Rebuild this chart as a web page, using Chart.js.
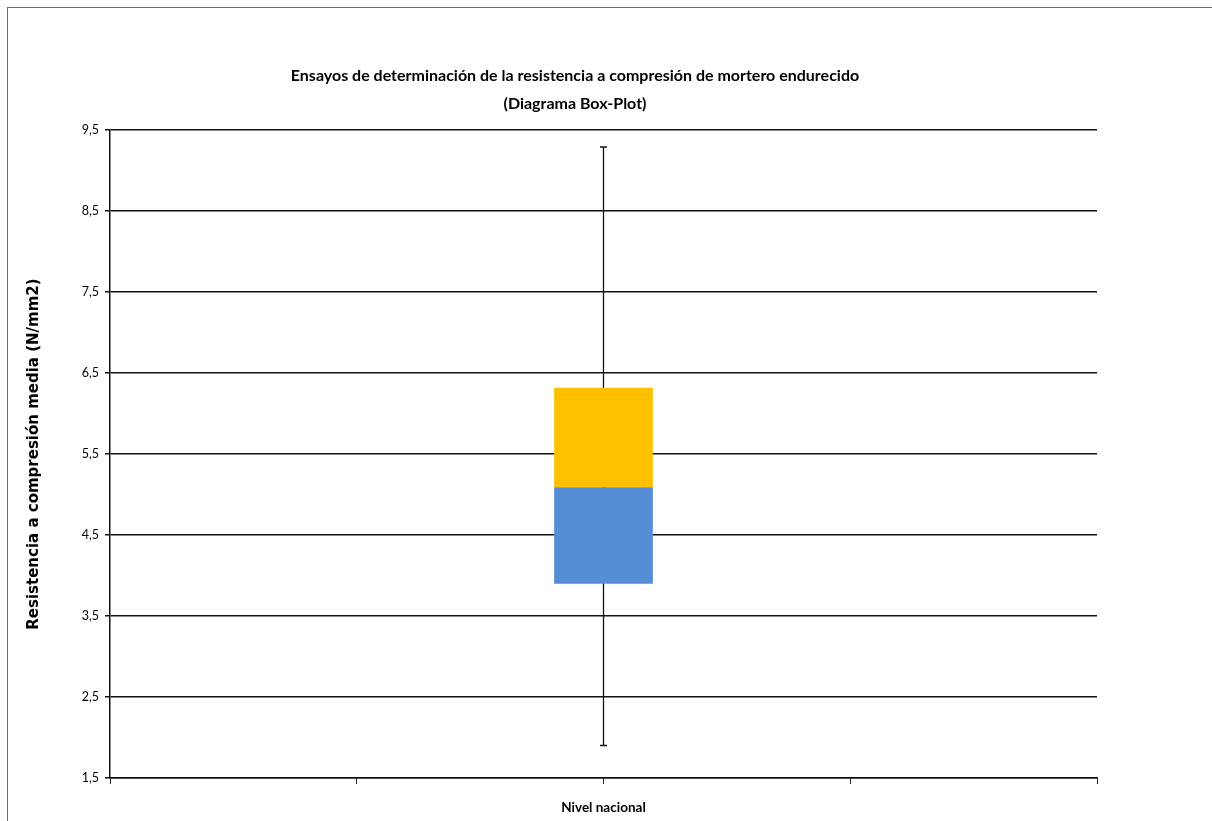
<!DOCTYPE html>
<html lang="es">
<head>
<meta charset="utf-8">
<title>Box-Plot resistencia a compresión</title>
<script src="https://cdn.jsdelivr.net/npm/chart.js@4.4.1/dist/chart.umd.min.js"></script>
<style>
  html, body { margin: 0; padding: 0; background: #fff; overflow: hidden; }
  body { width: 1212px; height: 821px; position: relative; }
  .marco { position: absolute; left: 7px; top: 7px; width: 1300px; height: 900px;
           border-top: 1px solid #6e6e6e; border-left: 1px solid #6e6e6e; }
  #grafico { position: absolute; left: 8px; top: 8px; }
</style>
</head>
<body>
<div class="marco"></div>
<canvas id="grafico" width="1134" height="813"></canvas>
<script>
// datos (N/mm2)
const categorias = ['Nivel nacional'];
const minimo  = [1.9];
const q1      = [3.9];
const mediana = [5.09];
const q3      = [6.32];
const maximo  = [9.29];

const yMin = 1.5, yMax = 9.5, yPaso = 1;

const FUENTE = "Lato, 'Open Sans', sans-serif";

// eje de categorías: dos huecos vacíos a cada lado, como en la hoja original
const huecos = ['', ''];
const etiquetas = [...huecos, ...categorias, ...huecos];
const enCat = arr => etiquetas.map(l => {
  const i = categorias.indexOf(l);
  return i >= 0 ? arr[i] : null;
});

const cajaInferior = enCat(q1.map((v, i) => [v, mediana[i]]));
const cajaSuperior = enCat(mediana.map((v, i) => [v, q3[i]]));
const bigotes = categorias.map((c, i) => [
  { x: c, y: minimo[i] },
  { x: c, y: maximo[i] }
]);

new Chart(document.getElementById('grafico'), {
  type: 'bar',
  data: {
    labels: etiquetas,
    datasets: [
      {
        label: 'Q1 - Mediana',
        data: cajaInferior,
        backgroundColor: '#558ED5',
        borderWidth: 0,
        barPercentage: 0.4,
        categoryPercentage: 1,
        grouped: false,
        order: 1
      },
      {
        label: 'Mediana - Q3',
        data: cajaSuperior,
        backgroundColor: '#FFC000',
        borderWidth: 0,
        barPercentage: 0.4,
        categoryPercentage: 1,
        grouped: false,
        order: 1
      },
      ...bigotes.map(d => ({
        type: 'line',
        label: 'Bigote',
        data: d,
        borderColor: '#111',
        borderWidth: 1.3,
        pointStyle: 'line',
        pointRadius: 3.5,
        pointBorderColor: '#111',
        pointBorderWidth: 1.5,
        fill: false,
        order: 2
      }))
    ]
  },
  options: {
    responsive: false,
    animation: false,
    layout: { padding: 0 },
    plugins: {
      legend: { display: false },
      tooltip: { enabled: false },
      title: {
        display: true,
        text: ['Ensayos de determinación de la resistencia a compresión de mortero endurecido', '(Diagrama Box-Plot)'],
        color: '#000',
        font: { family: FUENTE, size: 16, weight: 'bold', lineHeight: 1.8 },
        padding: { top: 53, bottom: 11.5 }
      }
    },
    scales: {
      x: {
        offset: false,
        grid: { display: true, offset: false, drawOnChartArea: false, drawTicks: true, tickLength: 6, color: '#222', lineWidth: 1 },
        border: { display: true, color: '#111', width: 1.5 },
        ticks: {
          autoSkip: false, maxRotation: 0, padding: 16,
          color: '#000',
          font: { family: FUENTE, size: 13.5, weight: 'bold' }
        },
        afterFit: s => { s.height = 43; }
      },
      y: {
        min: yMin, max: yMax,
        ticks: {
          stepSize: yPaso, padding: 6, color: '#000',
          font: { family: FUENTE, size: 12.5 },
          callback: v => v.toFixed(1).replace('.', ',')
        },
        grid: { color: '#111', lineWidth: 1.5, tickLength: 5 },
        border: { display: true, color: '#111', width: 1.5 },
        title: {
          display: true,
          text: 'Resistencia a compresión media (N/mm2)',
          color: '#000',
          font: { family: "'DejaVu Sans', Verdana, sans-serif", size: 15, weight: 'bold' },
          padding: { top: 17, bottom: 0 }
        },
        afterFit: s => { s.width = 102; }
      },
      // eje vacío a la derecha: reserva el margen derecho del área de trazado
      derecha: {
        position: 'right',
        display: true,
        grid: { display: false, drawTicks: false },
        border: { display: false },
        ticks: { display: false },
        afterFit: s => { s.width = 45; }
      }
    }
  }
});
</script>
</body>
</html>
